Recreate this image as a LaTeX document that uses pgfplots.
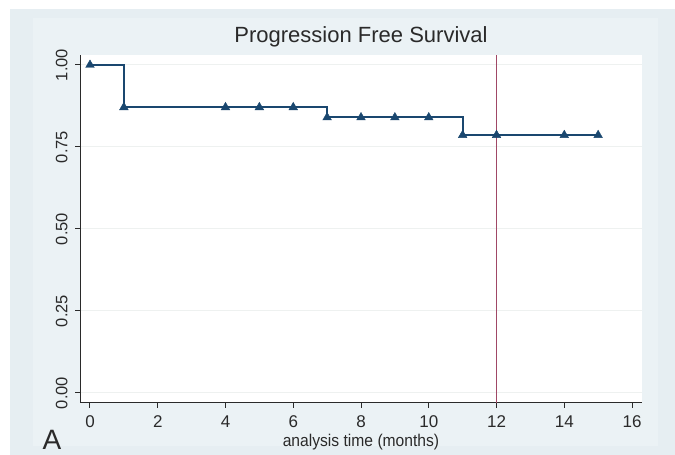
\documentclass[border=0pt]{standalone}
\usepackage{pgfplots}
\pgfplotsset{compat=1.18}
\usepackage{fontspec}
\setmainfont{Liberation Sans}
\definecolor{bgout}{HTML}{E6EEF2}
\definecolor{bgin}{HTML}{EBF2F5}
\definecolor{navy}{HTML}{1A476F}
\definecolor{vred}{HTML}{A04866}
\definecolor{gridc}{HTML}{EEF1F0}
\definecolor{txt}{HTML}{2A2A2A}
\begin{document}
\begin{tikzpicture}[x=1bp,y=1bp]
\useasboundingbox (0,0) rectangle (675,455);
\fill[bgout] (10,0) rectangle (675,446);
\fill[bgin] (33,9) rectangle (658,437);
\begin{axis}[
  at={(80bp,52bp)}, anchor=south west,
  scale only axis, width=562bp, height=348bp,
  xmin=-0.295, xmax=16.295, ymin=-0.0305, ymax=1.0305,
  axis x line*=bottom, axis y line*=left,
  axis line style={txt, line width=1bp},
  axis background/.style={fill=white},
  xtick={0,2,...,16},
  ytick={0,0.25,0.5,0.75,1},
  yticklabels={0.00,0.25,0.50,0.75,1.00},
  tick align=outside,
  major tick length=5bp,
  tick style={txt, line width=1bp},
  ymajorgrids,
  grid style={gridc, line width=1bp},
  /pgf/number format/assume math mode=true,
  xticklabel style={font=\fontsize{17bp}{19bp}\selectfont, text=txt, anchor=base, inner sep=0.5bp, yshift=-20bp},
  yticklabel style={font=\fontsize{16.5bp}{18bp}\selectfont, text=txt, xshift=-4bp, rotate=90, anchor=south},
  title={Progression Free Survival},
  title style={font=\fontsize{22bp}{26bp}\selectfont, text=txt, anchor=base, at={(axis description cs:0.5,1)}, yshift=7bp},
  xlabel={analysis time (months)},
  xlabel style={font=\fontsize{17bp}{19bp}\selectfont, text=txt, anchor=base, inner sep=0.5bp, at={(axis description cs:0.5,0)}, yshift=-44bp, xscale=0.92},
  clip=false,
]
\addplot[vred, line width=1.5bp] coordinates {(12,-0.0305) (12,1.0305)};
\addplot[navy, line width=2bp, const plot] coordinates {
(0,1) (1,0.871) (7,0.840) (11,0.786) (15,0.786)};
\addplot[only marks, mark=triangle*, mark size=5bp, navy] coordinates {
(0,1) (1,0.871) (4,0.871) (5,0.871) (6,0.871)
(7,0.840) (8,0.840) (9,0.840) (10,0.840)
(11,0.786) (12,0.786) (14,0.786) (15,0.786)};
\end{axis}
\node[font=\fontsize{28bp}{30bp}\selectfont, text=txt, anchor=base] at (52,5) {A};
\end{tikzpicture}
\end{document}
